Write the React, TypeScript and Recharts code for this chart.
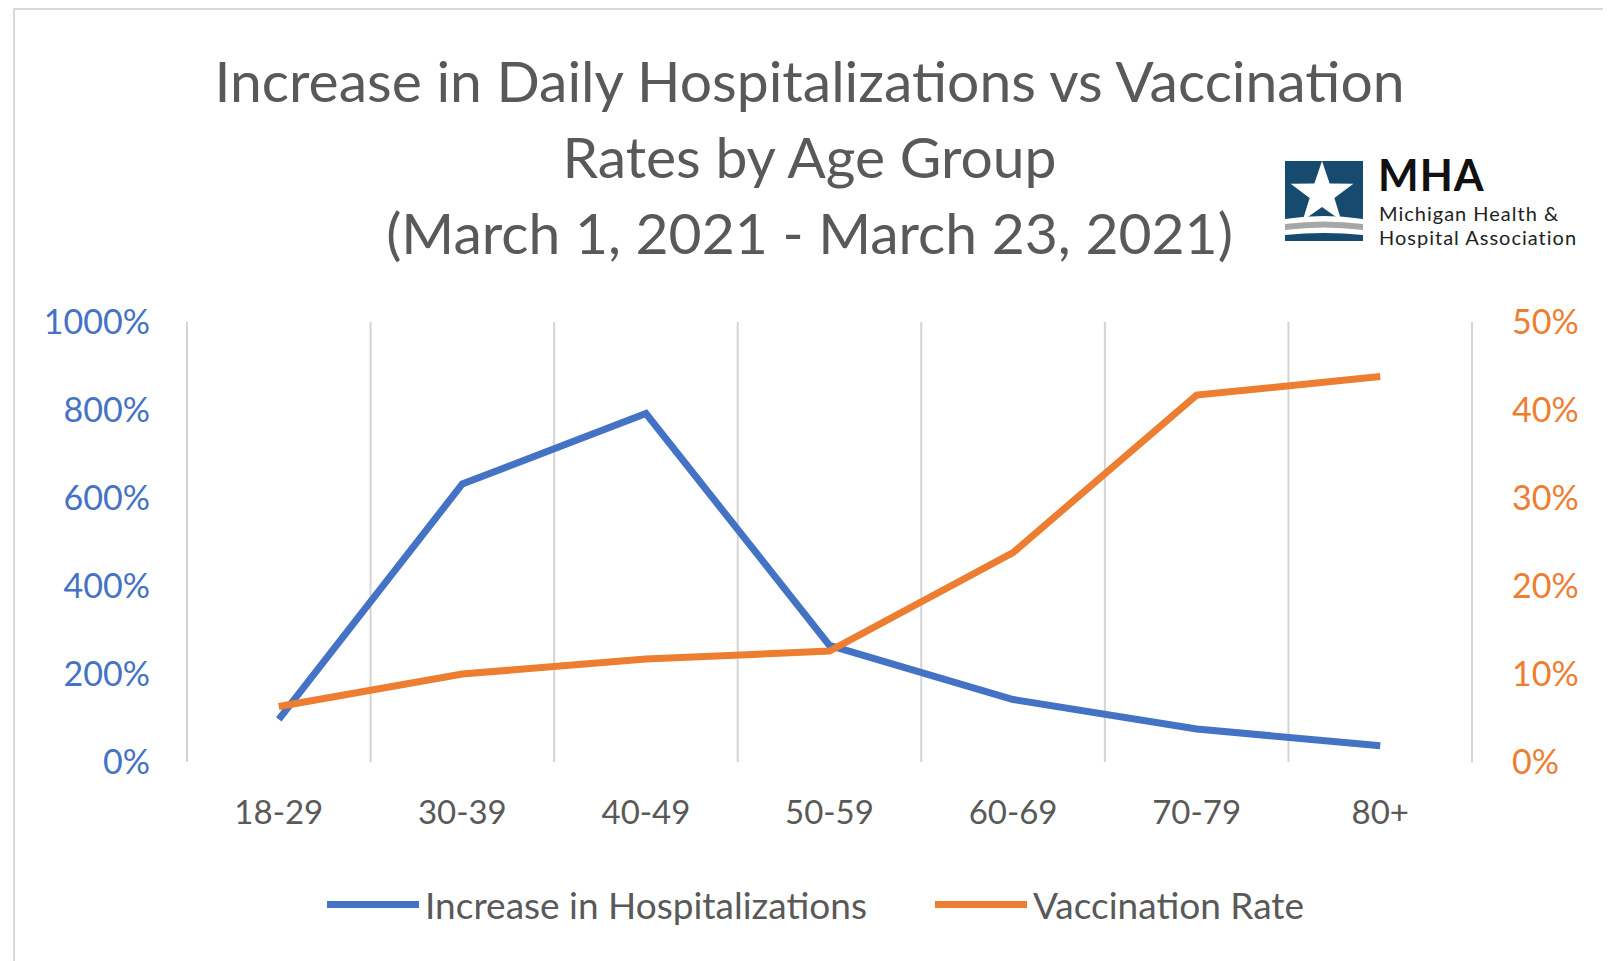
import { LineChart, Line, XAxis, YAxis, CartesianGrid, Legend } from "recharts";

// age groups and values
const ageGroups = ["18-29", "30-39", "40-49", "50-59", "60-69", "70-79", "80+"];
const hospIncrease = [97, 632, 792, 265, 142, 75, 37]; // % increase in daily hospitalizations
const vaccRate = [6.3, 10.0, 11.7, 12.6, 23.8, 41.7, 43.8]; // % vaccinated
const leftTicks = [0, 200, 400, 600, 800, 1000];
const rightTicks = [0, 10, 20, 30, 40, 50];

const titleLines = [
  "Increase in Daily Hospitalizations vs Vaccination",
  "Rates by Age Group",
  "(March 1, 2021 - March 23, 2021)",
];
const logoLines = ["Michigan Health &", "Hospital Association"];

const BLUE = "#4472C4";
const ORANGE = "#ED7D31";
const GRAY = "#595959";
const FONT = "Lato, 'Open Sans', sans-serif";

const data = ageGroups.map((age, i) => ({
  age,
  hosp: hospIncrease[i],
  vacc: vaccRate[i],
}));

function starPoints(cx: number, cy: number, outer: number, inner: number) {
  const pts: string[] = [];
  for (let i = 0; i < 10; i++) {
    const r = i % 2 === 0 ? outer : inner;
    const a = -Math.PI / 2 + (i * Math.PI) / 5;
    pts.push(`${cx + r * Math.cos(a)},${cy + r * Math.sin(a)}`);
  }
  return pts.join(" ");
}

function Logo() {
  return (
    <div style={{ position: "absolute", left: 1276, top: 152, width: 320, height: 92 }}>
      <svg width={82} height={84} style={{ position: "absolute", left: 0, top: 1 }}>
        <rect x={1} y={0} width={78} height={60} fill="#174a6f" />
        <polygon points={starPoints(38, 33, 33, 13)} fill="#fff" />
        <path d="M1 58 Q40 52 79 58 L79 64 Q40 58 1 64 Z" fill="#fff" />
        <path d="M1 63 Q40 58 79 63 L79 69 Q40 64 1 69 Z" fill="#a5a7a9" />
        <path d="M1 74 Q40 70 79 74 L79 80 L1 80 Z" fill="#174a6f" />
      </svg>
      <div
        style={{
          position: "absolute",
          left: 94,
          top: -3,
          fontFamily: FONT,
          fontWeight: 700,
          fontSize: 43,
          lineHeight: "36px",
          letterSpacing: 1,
          color: "#111",
        }}
      >
        MHA
      </div>
      {logoLines.map((t, i) => (
        <div
          key={t}
          style={{
            position: "absolute",
            left: 95,
            top: 41 + i * 24,
            fontFamily: FONT,
            fontSize: 20,
            lineHeight: "24px",
            letterSpacing: 1,
            color: "#222",
            whiteSpace: "nowrap",
          }}
        >
          {t}
        </div>
      ))}
    </div>
  );
}

function LegendContent() {
  const items = [
    { label: "Increase in Hospitalizations", color: BLUE, gap: 608 },
    { label: "Vaccination Rate", color: ORANGE, gap: 0 },
  ];
  return (
    <div style={{ height: 40, display: "flex", alignItems: "center", paddingLeft: 319 }}>
      {items.map((it) => (
        <div key={it.label} style={{ display: "flex", alignItems: "center", width: it.gap || undefined }}>
          <div style={{ width: 92, height: 7, background: it.color }} />
          <span style={{ marginLeft: 6, fontFamily: FONT, fontSize: 37, color: GRAY, whiteSpace: "nowrap" }}>
            {it.label}
          </span>
        </div>
      ))}
    </div>
  );
}

export default function App() {
  return (
    <div style={{ position: "relative", width: 1603, height: 953, background: "#fff", overflow: "hidden" }}>
      <div
        style={{
          position: "absolute",
          left: 5,
          top: 0,
          width: 1590,
          height: 1000,
          border: "2px solid #d9d9d9",
        }}
      />
      <div
        style={{
          position: "absolute",
          left: 0,
          top: 34,
          width: 1603,
          textAlign: "center",
          fontFamily: FONT,
          fontSize: 57,
          lineHeight: "76px",
          color: GRAY,
        }}
      >
        {titleLines.map((t, i) => (
          <div key={i}>{t}</div>
        ))}
      </div>
      <Logo />
      <LineChart
        width={1603}
        height={953}
        data={data}
        margin={{ top: 314, right: 39, left: 79, bottom: 99 }}
        style={{ position: "absolute", left: 0, top: 0 }}
      >
        <CartesianGrid
          horizontal={false}
          stroke="#d4d4d4"
          strokeWidth={2}
          verticalCoordinatesGenerator={({ offset }: any) =>
            Array.from({ length: ageGroups.length + 1 }, (_, i) => offset.left + (i * offset.width) / ageGroups.length)
          }
        />
        <XAxis
          dataKey="age"
          scale="band"
          axisLine={false}
          tickLine={false}
          tickSize={0}
          tickMargin={39}
          height={60}
          tick={{ fill: GRAY, fontSize: 33, fontFamily: FONT }}
        />
        <YAxis
          yAxisId="left"
          domain={[0, 1000]}
          ticks={leftTicks}
          tickFormatter={(v) => `${v}%`}
          axisLine={false}
          tickLine={false}
          tickSize={0}
          tickMargin={37}
          width={100}
          tick={{ fill: BLUE, fontSize: 34, fontFamily: FONT }}
        />
        <YAxis
          yAxisId="right"
          orientation="right"
          domain={[0, 50]}
          ticks={rightTicks}
          tickFormatter={(v) => `${v}%`}
          axisLine={false}
          tickLine={false}
          tickSize={0}
          tickMargin={40}
          width={100}
          tick={{ fill: ORANGE, fontSize: 34, fontFamily: FONT }}
        />
        <Legend verticalAlign="bottom" wrapperStyle={{ bottom: 37, left: 0, width: 1603 }} content={() => <LegendContent />} />
        <Line
          yAxisId="left"
          dataKey="hosp"
          name="Increase in Hospitalizations"
          stroke={BLUE}
          strokeWidth={7}
          dot={false}
          activeDot={false}
          isAnimationActive={false}
        />
        <Line
          yAxisId="right"
          dataKey="vacc"
          name="Vaccination Rate"
          stroke={ORANGE}
          strokeWidth={7}
          dot={false}
          activeDot={false}
          isAnimationActive={false}
        />
      </LineChart>
    </div>
  );
}
